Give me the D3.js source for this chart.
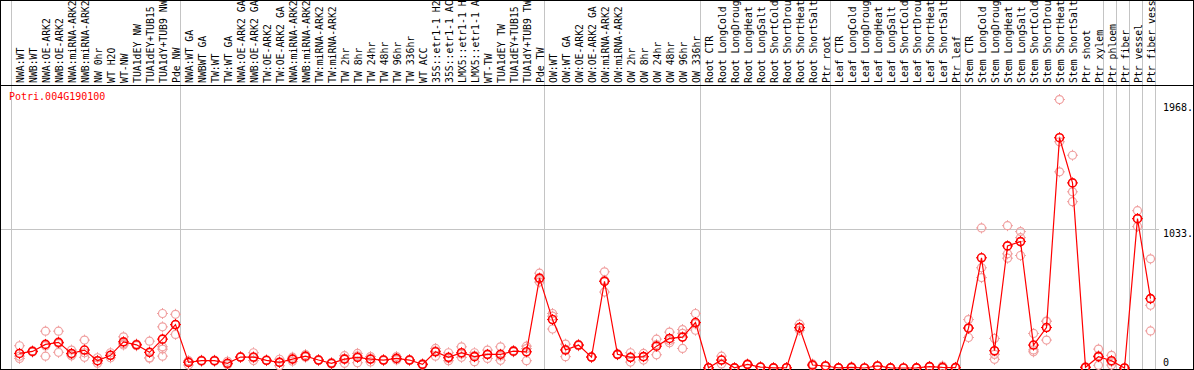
<!DOCTYPE html>
<html>
<head>
<meta charset="utf-8">
<script src="https://cdn.jsdelivr.net/npm/d3@7"></script>
<style>
  html, body { margin: 0; padding: 0; background: #fff; }
  svg { display: block; }
  text { font-family: "DejaVu Sans Mono", "Liberation Mono", monospace; }
</style>
</head>
<body>
<svg id="chart" width="1194" height="370"></svg>
<script>
const geneId = "Potri.004G190100";

const categories = [
  "NWA:WT","NWB:WT","NWA:OE-ARK2","NWB:OE-ARK2","NWA:miRNA-ARK2","NWB:miRNA-ARK2","NW 0hr","WT H2O","WT-NW","TUA1dEY NW","TUA1dEY+TUB15","TUA1dY+TUB9 NW","Pde NW",
  "NWA:WT GA","NWBWT GA","TW:WT","TW:WT GA","NWA:OE-ARK2 GA","NWB:OE-ARK2 GA","TW:OE-ARK2","TW:OE-ARK2 GA","NWA:miRNA-ARK2","NWB:miRNA-ARK2","TW:miRNA-ARK2","TW:miRNA-ARK2","TW 2hr","TW 8hr","TW 24hr","TW 48hr","TW 96hr","TW 336hr","WT ACC","35S::etr1-1 H2","35S::etr1-1 AC","LMX5::etr1-1 H","LMX5::etr1-1 A","WT-TW","TUA1dEY TW","TUA1dEY+TUB15","TUA1dY+TUB9 TW","Pde TW",
  "OW:WT","OW:WT GA","OW:OE-ARK2","OW:OE-ARK2 GA","OW:miRNA-ARK2","OW:miRNA-ARK2","OW 2hr","OW 8hr","OW 24hr","OW 48hr","OW 96hr","OW 336hr",
  "Root CTR","Root LongCold","Root LongDroug","Root LongHeat","Root LongSalt","Root ShortCold","Root ShortDrou","Root ShortHeat","Root ShortSalt","Ptr root",
  "Leaf CTR","Leaf LongCold","Leaf LongDroug","Leaf LongHeat","Leaf LongSalt","Leaf ShortCold","Leaf ShortDrou","Leaf ShortHeat","Leaf ShortSalt","Ptr leaf",
  "Stem CTR","Stem LongCold","Stem LongDroug","Stem LongHeat","Stem LongSalt","Stem ShortCold","Stem ShortDrou","Stem ShortHeat","Stem ShortSalt","Ptr shoot","Ptr xylem",
  "Ptr phloem","Ptr fiber","Ptr vessel","Ptr fiber vess"
];

// group separators (category index where a new group starts)
const groupBreaks = [0, 13, 41, 53, 63, 73, 84, 85, 86, 87, 88];

// mean expression per sample
const means = [
  108,123,175,190,108,133,54,94,194,172,116,214,322,
  42,54,54,35,81,81,57,42,66,88,59,35,66,79,66,59,71,59,27,120,79,113,84,101,101,125,120,666,
  359,133,170,81,642,101,79,84,162,219,229,337,
  2,59,1,27,7,1,2,300,22,15,
  1,5,0,15,1,0,1,10,5,3,
  295,817,128,905,937,170,300,1707,1372,5,84,
  54,0,1107,514
];

// replicate values
const repA = [
  165,118,273,273,133,207,76,113,231,165,199,404,398,
  50,50,50,50,78,113,55,17,80,100,55,30,91,108,85,55,85,55,22,145,113,157,113,133,157,120,162,703,
  404,177,165,78,713,98,113,108,214,266,285,404,
  2,88,1,25,7,1,2,325,30,15,
  1,5,0,15,1,0,1,10,15,3,
  359,1038,219,1055,1011,256,345,1990,1577,5,140,
  94,0,1166,809
];
const repB = [
  71,128,88,116,101,79,35,76,180,178,76,305,249,
  22,58,58,25,84,55,59,65,50,80,63,40,35,39,45,63,60,63,30,88,54,79,47,71,57,130,54,637,
  384,84,175,84,563,104,44,59,98,187,145,280,
  1,30,0,29,5,0,1,280,15,12,
  0,3,0,12,0,0,0,8,0,1,
  226,743,64,846,966,120,348,1454,1306,3,20,
  22,0,1048,465
];
const repC = [
  88,123,164,181,90,113,51,93,171,173,73,157,319,
  54,54,54,30,81,75,57,44,68,84,59,35,72,90,68,59,68,59,29,127,70,103,92,99,89,125,144,658,
  289,138,170,81,650,101,80,85,174,204,257,327,
  3,59,2,27,9,2,3,295,21,18,
  2,7,0,18,2,0,2,12,0,5,
  300,670,101,814,834,134,207,1677,1233,7,92,
  46,0,1107,275
];
// extra replicates (only present for a few samples)
const repD = categories.map((c, i) => i === 11 ? 140 : null);
const repE = categories.map((c, i) => i === 11 ? 88 : null);

const axisTicks = [0, 1033, 1968];
const axisTickLabels = ["0", "1033.", "1968."];

const W = 1194, H = 370;
const svg = d3.select("#chart");

const x = d3.scaleBand().domain(d3.range(categories.length)).range([11, 1155]).paddingInner(0).paddingOuter(0);
const px = i => x(i) + 8.5;
const y = d3.scaleLinear().domain([0, 1968]).range([368, 102.5]);

const gray = "#c4c4c4";

// group separator lines (full height)
svg.append("g").selectAll("line").data(groupBreaks).join("line")
  .attr("x1", d => x(d) !== undefined ? x(d) + 0.5 : 1155.5)
  .attr("x2", d => x(d) !== undefined ? x(d) + 0.5 : 1155.5)
  .attr("y1", 0).attr("y2", H)
  .attr("stroke", gray).attr("stroke-width", 1);

// horizontal gridline
svg.append("g").selectAll("line").data([1033]).join("line")
  .attr("x1", 0).attr("x2", 1159)
  .attr("y1", d => Math.round(y(d)) + 0.5).attr("y2", d => Math.round(y(d)) + 0.5)
  .attr("stroke", gray).attr("stroke-width", 1);

// header labels
svg.append("g").selectAll("text").data(categories).join("text")
  .attr("transform", (d, i) => `translate(${px(i) + 4.6},83) rotate(-90)`)
  .attr("text-anchor", "start")
  .attr("font-size", "9.8px")
  .attr("fill", "#000")
  .text(d => d.length > 14 ? d.slice(0, 14) : d);

// header separator & border
svg.append("line").attr("x1", 0).attr("x2", W).attr("y1", 85.5).attr("y2", 85.5).attr("stroke", "#000");
svg.append("rect").attr("x", 0.5).attr("y", 0.5).attr("width", W - 1).attr("height", H - 1)
  .attr("fill", "none").attr("stroke", "#000");

// title
svg.append("text").attr("x", 9).attr("y", 100).attr("font-size", "10px").attr("fill", "#ff0000").text(geneId);

// right axis labels
svg.append("g").selectAll("text").data(axisTicks).join("text")
  .attr("x", 1163)
  .attr("y", d => Math.min(y(d) + 8, 366))
  .attr("font-size", "10px").attr("fill", "#000")
  .text((d, i) => axisTickLabels[i]);

// marker drawing
function marker(g, cx, cy, color, sw) {
  g.append("circle").attr("cx", cx).attr("cy", cy).attr("r", 4)
    .attr("fill", "none").attr("stroke", color).attr("stroke-width", sw);
  const t = [[0, -1], [0, 1], [-1, 0], [1, 0]];
  t.forEach(([dx, dy]) => {
    g.append("line")
      .attr("x1", cx + dx * 4).attr("y1", cy + dy * 4)
      .attr("x2", cx + dx * 5.5).attr("y2", cy + dy * 5.5)
      .attr("stroke", color).attr("stroke-width", 1);
  });
}

// replicates
const repG = svg.append("g");
[repA, repB, repC, repD, repE].forEach(arr => {
  arr.forEach((v, i) => {
    if (v === null || v === undefined) return;
    marker(repG, px(i), y(v), "#f0a0a0", 1.2);
  });
});

// mean line
svg.append("path")
  .datum(means)
  .attr("d", d3.line().x((d, i) => px(i)).y(d => y(d)))
  .attr("fill", "none").attr("stroke", "#ff0000").attr("stroke-width", 1.2);

// means
const meanG = svg.append("g");
means.forEach((v, i) => marker(meanG, px(i), y(v), "#ff0000", 1.6));
</script>
</body>
</html>
